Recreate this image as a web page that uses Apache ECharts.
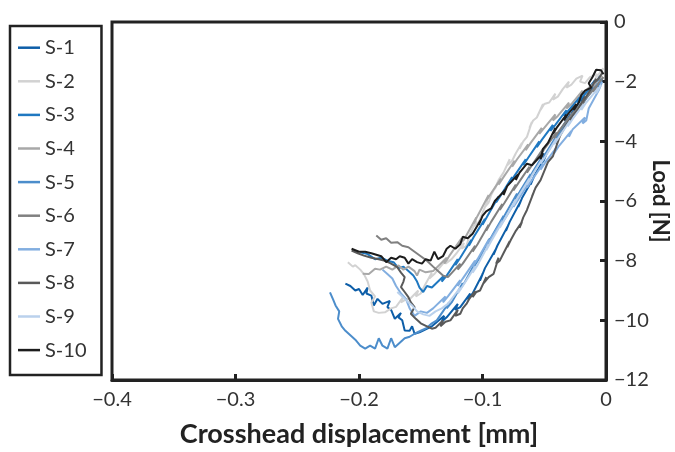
<!DOCTYPE html>
<html><head><meta charset="utf-8">
<script src="https://cdn.jsdelivr.net/npm/echarts@6/dist/echarts.min.js"></script>
<style>html,body{margin:0;padding:0;background:#fff}#c{width:675px;height:452px}</style>
</head><body><div id="c"></div><script>
const seriesNames = ['S-1','S-2','S-3','S-4','S-5','S-6','S-7','S-8','S-9','S-10'];
const colors = ['#0d5ea8','#d2d2d2','#1f78c1','#a8a8a8','#4c8dcb','#808080','#82aee0','#595959','#bad1ec','#1c1c1c'];
const xTicks = [-0.4,-0.3,-0.2,-0.1,0];
const yTicks = [-12,-10,-8,-6,-4,-2,0];

const s1 = [[-0.005,-1.8],[-0.009,-2.1],[-0.008,-1.9],[-0.017,-2.4],[-0.02,-2.65],[-0.018,-2.45],[-0.027,-3.0],[-0.031,-3.3],[-0.029,-3.1],[-0.038,-3.7],[-0.041,-4.0],[-0.039,-3.8],[-0.048,-4.4],[-0.051,-4.7],[-0.049,-4.5],[-0.058,-5.15],[-0.061,-5.45],[-0.059,-5.25],[-0.068,-5.9],[-0.071,-6.2],[-0.069,-6.0],[-0.078,-6.7],[-0.081,-7.0],[-0.079,-6.8],[-0.088,-7.5],[-0.091,-7.8],[-0.089,-7.6],[-0.098,-8.25],[-0.102,-8.67],[-0.1,-8.45],[-0.108,-9.1],[-0.112,-9.3],[-0.11,-9.1],[-0.118,-9.56],[-0.122,-9.65],[-0.12,-9.45],[-0.129,-9.9],[-0.133,-10.05],[-0.131,-9.85],[-0.141,-10.2],[-0.146,-10.3],[-0.151,-10.4],[-0.155,-10.45],[-0.157,-10.2],[-0.159,-10.35],[-0.163,-10.34],[-0.165,-10.0],[-0.168,-9.9],[-0.166,-9.75],[-0.171,-9.95],[-0.174,-9.65],[-0.177,-9.56],[-0.175,-9.35],[-0.181,-9.45],[-0.185,-9.28],[-0.188,-9.5],[-0.19,-9.17],[-0.194,-9.1],[-0.193,-8.9],[-0.197,-9.15],[-0.2,-8.95],[-0.203,-9.0],[-0.207,-8.85],[-0.211,-8.77]];
const s2 = [[-0.002,-1.55],[-0.005,-1.7],[-0.009,-1.95],[-0.007,-1.75],[-0.013,-1.85],[-0.017,-2.05],[-0.021,-2.0],[-0.019,-1.8],[-0.024,-1.9],[-0.028,-2.1],[-0.032,-2.2],[-0.03,-2.0],[-0.035,-2.25],[-0.039,-2.5],[-0.043,-2.6],[-0.041,-2.4],[-0.046,-2.7],[-0.05,-2.75],[-0.053,-2.95],[-0.051,-2.75],[-0.056,-3.2],[-0.059,-3.3],[-0.062,-3.55],[-0.06,-3.35],[-0.064,-3.85],[-0.067,-4.0],[-0.07,-4.25],[-0.068,-4.05],[-0.073,-4.4],[-0.076,-4.65],[-0.08,-4.8],[-0.078,-4.6],[-0.083,-5.05],[-0.087,-5.3],[-0.09,-5.6],[-0.088,-5.4],[-0.093,-5.8],[-0.095,-6.05],[-0.098,-6.2],[-0.096,-6.0],[-0.1,-6.4],[-0.103,-6.7],[-0.107,-6.85],[-0.105,-6.65],[-0.11,-7.1],[-0.113,-7.5],[-0.117,-7.6],[-0.115,-7.4],[-0.121,-7.75],[-0.125,-7.95],[-0.13,-8.1],[-0.128,-7.9],[-0.135,-8.25],[-0.139,-8.45],[-0.143,-8.6],[-0.141,-8.4],[-0.147,-8.85],[-0.15,-9.1],[-0.154,-9.2],[-0.152,-9.0],[-0.158,-9.25],[-0.162,-9.3],[-0.166,-9.4],[-0.164,-9.2],[-0.17,-9.55],[-0.174,-9.6],[-0.179,-9.73],[-0.184,-9.75],[-0.188,-9.7],[-0.19,-9.4],[-0.187,-9.2],[-0.191,-9.0],[-0.193,-8.7],[-0.196,-8.45],[-0.199,-8.3],[-0.203,-8.15],[-0.205,-8.2],[-0.209,-8.05]];
const s3 = [[-0.004,-1.9],[-0.008,-2.0],[-0.012,-2.3],[-0.01,-2.1],[-0.019,-2.5],[-0.023,-2.7],[-0.021,-2.5],[-0.03,-2.95],[-0.034,-3.15],[-0.032,-2.95],[-0.041,-3.45],[-0.045,-3.65],[-0.043,-3.45],[-0.052,-3.95],[-0.056,-4.2],[-0.054,-4.0],[-0.063,-4.55],[-0.067,-4.8],[-0.065,-4.6],[-0.074,-5.15],[-0.078,-5.4],[-0.076,-5.2],[-0.085,-5.8],[-0.089,-6.05],[-0.087,-5.85],[-0.096,-6.5],[-0.1,-6.8],[-0.098,-6.6],[-0.107,-7.2],[-0.111,-7.5],[-0.109,-7.3],[-0.118,-7.9],[-0.122,-8.15],[-0.12,-7.95],[-0.129,-8.5],[-0.133,-8.7],[-0.131,-8.5],[-0.141,-8.9],[-0.145,-8.85],[-0.148,-9.05],[-0.151,-8.9],[-0.153,-8.7],[-0.156,-8.5],[-0.16,-8.35],[-0.164,-8.2],[-0.168,-8.25],[-0.172,-8.05],[-0.177,-8.0],[-0.182,-7.9],[-0.187,-7.95],[-0.193,-7.78],[-0.199,-7.72]];
const s4 = [[-0.003,-1.8],[-0.007,-1.95],[-0.01,-2.2],[-0.008,-2.0],[-0.018,-2.35],[-0.021,-2.5],[-0.019,-2.3],[-0.028,-2.75],[-0.032,-2.9],[-0.03,-2.7],[-0.039,-3.15],[-0.043,-3.3],[-0.041,-3.1],[-0.05,-3.55],[-0.054,-3.75],[-0.052,-3.55],[-0.061,-4.05],[-0.065,-4.3],[-0.063,-4.1],[-0.072,-4.6],[-0.076,-4.85],[-0.074,-4.65],[-0.083,-5.2],[-0.087,-5.45],[-0.085,-5.25],[-0.094,-5.8],[-0.097,-6.0],[-0.095,-5.8],[-0.104,-6.5],[-0.107,-6.75],[-0.105,-6.55],[-0.115,-7.3],[-0.119,-7.45],[-0.117,-7.25],[-0.127,-7.85],[-0.131,-8.1],[-0.129,-7.9],[-0.14,-8.35],[-0.146,-8.39],[-0.151,-8.3],[-0.153,-8.5],[-0.155,-8.35],[-0.16,-8.2],[-0.164,-8.3],[-0.168,-8.16],[-0.173,-8.3],[-0.178,-8.2],[-0.183,-8.3],[-0.187,-8.27],[-0.192,-8.45],[-0.197,-8.44]];
const s5 = [[-0.003,-1.9],[-0.007,-2.2],[-0.005,-2.0],[-0.015,-2.5],[-0.019,-2.75],[-0.017,-2.55],[-0.026,-3.05],[-0.03,-3.3],[-0.028,-3.1],[-0.037,-3.7],[-0.041,-3.95],[-0.039,-3.75],[-0.048,-4.35],[-0.052,-4.6],[-0.05,-4.4],[-0.059,-5.0],[-0.063,-5.3],[-0.061,-5.1],[-0.07,-5.7],[-0.074,-5.95],[-0.072,-5.75],[-0.081,-6.4],[-0.085,-6.7],[-0.083,-6.5],[-0.092,-7.15],[-0.096,-7.45],[-0.094,-7.25],[-0.103,-7.95],[-0.107,-8.2],[-0.105,-8.0],[-0.114,-8.7],[-0.118,-8.95],[-0.116,-8.75],[-0.125,-9.4],[-0.129,-9.6],[-0.127,-9.4],[-0.137,-10.0],[-0.141,-10.1],[-0.145,-10.25],[-0.15,-10.35],[-0.155,-10.45],[-0.159,-10.55],[-0.163,-10.6],[-0.167,-10.75],[-0.171,-10.9],[-0.174,-10.6],[-0.177,-10.95],[-0.181,-10.85],[-0.184,-10.6],[-0.187,-10.95],[-0.191,-10.85],[-0.195,-10.95],[-0.199,-10.85],[-0.203,-10.65],[-0.207,-10.5],[-0.211,-10.35],[-0.214,-10.2],[-0.217,-9.95],[-0.216,-9.7],[-0.219,-9.5],[-0.221,-9.3],[-0.2235,-9.06]];
const s6 = [[-0.002,-1.85],[-0.006,-2.05],[-0.01,-2.35],[-0.008,-2.15],[-0.017,-2.6],[-0.02,-2.85],[-0.018,-2.65],[-0.028,-3.1],[-0.031,-3.35],[-0.029,-3.15],[-0.038,-3.65],[-0.042,-3.9],[-0.04,-3.7],[-0.049,-4.2],[-0.053,-4.45],[-0.051,-4.25],[-0.06,-4.8],[-0.064,-5.05],[-0.062,-4.85],[-0.071,-5.4],[-0.075,-5.65],[-0.073,-5.45],[-0.082,-6.05],[-0.086,-6.3],[-0.084,-6.1],[-0.093,-6.7],[-0.097,-7.0],[-0.095,-6.8],[-0.104,-7.45],[-0.108,-7.7],[-0.106,-7.5],[-0.116,-8.1],[-0.12,-8.3],[-0.118,-8.1],[-0.128,-8.55],[-0.132,-8.5],[-0.136,-8.35],[-0.14,-8.2],[-0.145,-8.0],[-0.15,-7.85],[-0.155,-7.7],[-0.16,-7.55],[-0.165,-7.5],[-0.169,-7.38],[-0.174,-7.4],[-0.178,-7.25],[-0.182,-7.3],[-0.186,-7.16]];
const s7 = [[-0.003,-2.0],[-0.006,-2.3],[-0.01,-2.6],[-0.014,-2.9],[-0.016,-3.3],[-0.019,-3.4],[-0.017,-3.2],[-0.027,-3.6],[-0.03,-3.85],[-0.028,-3.65],[-0.038,-4.15],[-0.042,-4.4],[-0.04,-4.2],[-0.049,-4.7],[-0.053,-4.95],[-0.051,-4.75],[-0.06,-5.3],[-0.064,-5.55],[-0.062,-5.35],[-0.071,-5.95],[-0.075,-6.2],[-0.073,-6.0],[-0.082,-6.6],[-0.086,-6.85],[-0.084,-6.65],[-0.093,-7.25],[-0.097,-7.5],[-0.095,-7.3],[-0.104,-7.95],[-0.108,-8.2],[-0.106,-8.0],[-0.116,-8.6],[-0.12,-8.85],[-0.118,-8.65],[-0.128,-9.2],[-0.132,-9.4],[-0.13,-9.2],[-0.14,-9.6],[-0.145,-9.75],[-0.15,-9.7],[-0.155,-9.85],[-0.159,-9.6],[-0.162,-9.28],[-0.166,-9.1],[-0.17,-8.85],[-0.173,-8.6],[-0.177,-8.45],[-0.181,-8.3]];
const s8 = [[-0.003,-1.7],[-0.006,-1.9],[-0.01,-2.05],[-0.008,-1.9],[-0.013,-2.3],[-0.016,-2.5],[-0.019,-2.7],[-0.017,-2.5],[-0.023,-2.95],[-0.027,-3.15],[-0.03,-3.4],[-0.028,-3.2],[-0.033,-3.5],[-0.037,-3.8],[-0.04,-4.1],[-0.038,-3.9],[-0.043,-4.5],[-0.047,-4.7],[-0.05,-5.0],[-0.048,-4.8],[-0.053,-5.3],[-0.057,-5.55],[-0.06,-5.85],[-0.058,-5.65],[-0.064,-6.3],[-0.067,-6.55],[-0.07,-6.9],[-0.068,-6.7],[-0.073,-7.0],[-0.077,-7.3],[-0.08,-7.55],[-0.078,-7.35],[-0.083,-7.75],[-0.086,-8.0],[-0.089,-8.1],[-0.087,-7.9],[-0.091,-8.44],[-0.095,-8.55],[-0.099,-8.75],[-0.097,-8.55],[-0.102,-9.0],[-0.105,-9.05],[-0.108,-9.22],[-0.106,-9.02],[-0.111,-9.3],[-0.113,-9.45],[-0.116,-9.6],[-0.118,-9.78],[-0.122,-9.85],[-0.12,-9.65],[-0.126,-10.0],[-0.13,-10.05],[-0.134,-10.2],[-0.132,-10.0],[-0.138,-10.25],[-0.141,-10.28],[-0.145,-10.2],[-0.15,-10.1],[-0.154,-9.95],[-0.158,-9.78],[-0.155,-9.56],[-0.158,-9.4],[-0.16,-9.22],[-0.163,-9.05],[-0.166,-8.89],[-0.164,-8.7],[-0.163,-8.55],[-0.166,-8.4],[-0.169,-8.22],[-0.174,-8.1],[-0.179,-8.0],[-0.184,-7.95],[-0.19,-7.9],[-0.196,-7.83],[-0.201,-7.75],[-0.206,-7.66]];
const s9 = [[-0.004,-2.1],[-0.008,-2.4],[-0.006,-2.2],[-0.016,-2.7],[-0.02,-2.95],[-0.018,-2.75],[-0.027,-3.25],[-0.031,-3.5],[-0.029,-3.3],[-0.038,-3.85],[-0.042,-4.1],[-0.04,-3.9],[-0.049,-4.5],[-0.053,-4.75],[-0.051,-4.55],[-0.06,-5.15],[-0.064,-5.45],[-0.062,-5.25],[-0.071,-5.85],[-0.075,-6.15],[-0.073,-5.95],[-0.082,-6.6],[-0.086,-6.9],[-0.084,-6.7],[-0.093,-7.35],[-0.097,-7.65],[-0.095,-7.45],[-0.104,-8.15],[-0.108,-8.4],[-0.106,-8.2],[-0.116,-8.85],[-0.12,-9.1],[-0.118,-8.9],[-0.128,-9.45],[-0.133,-9.6],[-0.138,-9.7],[-0.143,-9.85],[-0.148,-9.8],[-0.153,-9.7],[-0.157,-9.5],[-0.161,-9.35],[-0.165,-9.2],[-0.169,-9.05]];
const s10 = [[-0.002,-1.75],[-0.004,-1.62],[-0.008,-1.6],[-0.011,-1.85],[-0.014,-2.05],[-0.012,-2.2],[-0.017,-2.3],[-0.02,-2.45],[-0.022,-2.7],[-0.026,-2.95],[-0.024,-2.75],[-0.031,-3.1],[-0.034,-3.3],[-0.032,-3.1],[-0.04,-3.55],[-0.043,-3.75],[-0.041,-3.55],[-0.047,-4.05],[-0.051,-4.25],[-0.053,-4.6],[-0.051,-4.4],[-0.06,-4.8],[-0.064,-4.75],[-0.068,-4.95],[-0.07,-5.05],[-0.073,-5.3],[-0.071,-5.1],[-0.08,-5.5],[-0.083,-5.8],[-0.081,-5.6],[-0.09,-6.0],[-0.093,-6.25],[-0.097,-6.35],[-0.1,-6.5],[-0.103,-6.8],[-0.101,-6.6],[-0.108,-7.1],[-0.112,-7.25],[-0.116,-7.2],[-0.118,-7.45],[-0.122,-7.6],[-0.126,-7.5],[-0.129,-7.6],[-0.132,-7.85],[-0.136,-7.95],[-0.139,-7.7],[-0.142,-8.0],[-0.146,-7.95],[-0.149,-8.1],[-0.153,-8.05],[-0.157,-7.95],[-0.16,-8.1],[-0.163,-7.9],[-0.167,-7.85],[-0.17,-7.95],[-0.174,-7.9],[-0.178,-8.05],[-0.182,-7.85],[-0.186,-7.8],[-0.19,-7.75],[-0.195,-7.7],[-0.2,-7.7],[-0.206,-7.6]];

const allData = [s1,s2,s3,s4,s5,s6,s7,s8,s9,s10];
const FONT = 'Lato';
const minus = v => (Math.abs(v) < 1e-9 ? '0' : (v < 0 ? '\u2212' : '') + Math.abs(v).toString());

const chart = echarts.init(document.getElementById('c'), null, {renderer:'canvas'});
chart.setOption({
  animation: false,
  backgroundColor: '#fff',
  color: colors,
  grid: {left:112, right:69, top:22, bottom:72, outerBoundsMode:'none', containLabel:false,
         show:true, borderColor:'#222', borderWidth:3, backgroundColor:'transparent'},
  legend: {
    orient:'vertical', left:10, top:26, icon:'rect', itemWidth:22, itemHeight:2.5, itemGap:13.6, itemTextGap:7,
    padding:[11.7,15,15,8], borderColor:'#222', borderWidth:2.5, backgroundColor:'#fff',
    textStyle:{fontSize:20, color:'#333', fontFamily:FONT},
    data: seriesNames
  },
  xAxis: {
    type:'value', min:xTicks[0], max:xTicks[xTicks.length-1], interval:0.1, position:'bottom',
    axisLine:{show:true, onZero:false, lineStyle:{color:'#222', width:3}},
    axisTick:{show:true, inside:true, length:6, lineStyle:{color:'#222', width:3}},
    axisLabel:{fontSize:20, color:'#333', fontFamily:FONT, margin:10, formatter: v => minus(Math.round(v*10)/10)},
    splitLine:{show:false},
    name:'Crosshead displacement [mm]', nameLocation:'middle', nameGap:41, nameMoveOverlap:false,
    nameTextStyle:{fontSize:27, fontWeight:'bold', color:'#222', fontFamily:FONT}
  },
  yAxis: {
    type:'value', min:yTicks[0], max:yTicks[yTicks.length-1], interval:2, position:'right',
    axisLine:{show:true, onZero:false, lineStyle:{color:'#222', width:3}},
    axisTick:{show:true, inside:true, length:6, lineStyle:{color:'#222', width:3}},
    axisLabel:{fontSize:20, color:'#333', fontFamily:FONT, margin:8, formatter: v => minus(v)},
    splitLine:{show:false},
    name:'Load [N]', nameLocation:'middle', nameGap:43, nameRotate:-90, nameMoveOverlap:false,
    nameTextStyle:{fontSize:22, fontWeight:'bold', color:'#222', fontFamily:FONT}
  },
  series: seriesNames.map((n,i) => ({
    name:n, type:'line', data: allData[i], symbol:'none', showSymbol:false,
    lineStyle:{width:2, color:colors[i]}, itemStyle:{color:colors[i]}, z: 2+i
  }))
});
</script></body></html>
